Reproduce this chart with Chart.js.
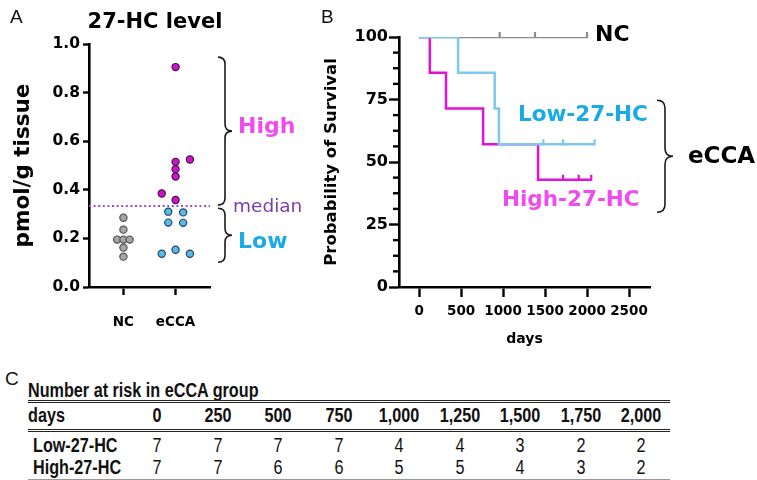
<!DOCTYPE html>
<html>
<head>
<meta charset="utf-8">
<title>27-HC level and survival</title>
<script src="https://cdn.jsdelivr.net/npm/chart.js@4.4.1/dist/chart.umd.min.js"></script>
<style>
  html, body { margin: 0; padding: 0; background: #fff; }
  #fig { position: relative; width: 757px; height: 480px; overflow: hidden; }
  #fig canvas { position: absolute; top: 0; }
  .t { position: absolute; white-space: nowrap; line-height: 1; font-family: 'DejaVu Sans', sans-serif; font-weight: bold; transform: translateY(-50%); }
  .panel { font-family: 'Liberation Sans', Arial, sans-serif; font-weight: normal; font-size: 19px; color: #111; }
  .tb { position: absolute; white-space: nowrap; line-height: 1; font-family: 'Liberation Sans', Arial, sans-serif; font-size: 19.5px; color: #111;
        transform: translateY(-50%) scaleX(0.83); transform-origin: 0 50%; }
  .tb.num { transform: translate(-50%, -50%) scaleX(0.83); transform-origin: 50% 50%; }
  .rule { position: absolute; left: 28px; width: 642px; }
</style>
</head>
<body>
<div id="fig">
  <canvas id="chartA" width="320" height="345" style="left:0"></canvas>
  <canvas id="chartB" width="437" height="350" style="left:320px"></canvas>

  <div class="t panel" style="left:10px;top:16px">A</div>
  <div class="t panel" style="left:321px;top:16px">B</div>
  <div class="t panel" style="left:5px;top:378px">C</div>

  <div class="t" style="left:155px;top:21px;font-size:21px;transform:translate(-50%,-50%)">27-HC level</div>
  <div class="t" style="left:238px;top:126px;font-size:22px;color:#f04af0">High</div>
  <div class="t" style="left:233px;top:206px;font-size:18.5px;font-weight:normal;color:#7b3fa6">median</div>
  <div class="t" style="left:238px;top:241px;font-size:22px;color:#1aabe6">Low</div>

  <div class="t" style="left:595px;top:34px;font-size:22px">NC</div>
  <div class="t" style="left:518px;top:114px;font-size:21.5px;color:#1aabe6">Low-27-HC</div>
  <div class="t" style="left:502px;top:199px;font-size:21.5px;color:#f04af0">High-27-HC</div>
  <div class="t" style="left:688px;top:155px;font-size:23px">eCCA</div>

  <div id="risk"></div>
</div>

<script>
// ---- panel A: 27-HC level (pmol/g tissue) ----
const groupLabels = ['NC', 'eCCA'];
const groupPos = [1, 2];
const yTicksA = [0, 0.2, 0.4, 0.6, 0.8, 1.0];

const ncValues   = [0.285, 0.236, 0.195, 0.195, 0.195, 0.162, 0.125];
const ncX        = [1, 1, 0.88, 1, 1.12, 1, 1];
const highValues = [0.905, 0.525, 0.515, 0.485, 0.455, 0.385, 0.358];
const highX      = [2, 2.275, 2, 2, 2, 1.735, 2];
const lowValues  = [0.310, 0.307, 0.265, 0.264, 0.153, 0.137, 0.137];
const lowX       = [1.86, 2.145, 1.86, 2.145, 2, 1.735, 2.275];
const medianValue = 0.333;

// brace extents (data units)
const bracesA = [[0.946, 0.337], [0.324, 0.102]];

// ---- panel B: survival ----
const dayTicks  = [0, 500, 1000, 1500, 2000, 2500];
const survTicks = [0, 25, 50, 75, 100];

const ncTimes   = [0, 2000];
const ncSurv    = [100, 100];
const ncCensor  = [960, 1380, 2000];

const lowTimes  = [0, 464, 900, 950, 2090];
const lowSurv   = [100, 85.7, 71.4, 57.1, 57.1];
const lowCensor = [1480, 1715, 2090];

const highTimes  = [0, 127, 320, 762, 1417, 2050];
const highSurv   = [100, 85.7, 71.4, 57.1, 42.9, 42.9];
const highCensor = [1715, 1900, 2050];

const bracesB = [[74.7, 29.9]];

// ---- panel C: number at risk ----
const riskDays = ['0', '250', '500', '750', '1,000', '1,250', '1,500', '1,750', '2,000'];
const riskLow  = [7, 7, 7, 7, 4, 4, 3, 2, 2];
const riskHigh = [7, 7, 6, 6, 5, 5, 4, 3, 2];

const C_NC = '#8c8c8c', C_LOW = '#7cc8ef', C_HIGH = '#e112d6';

Chart.defaults.font.family = "'DejaVu Sans', sans-serif";
Chart.defaults.font.weight = 'bold';
Chart.defaults.color = '#000';

function toPts(xs, ys) {
    return ys.map((v, i) => ({ x: xs[i], y: v }));
}

function survivalAt(times, surv, t) {
    let s = surv[0];
    times.forEach((tt, i) => { if (tt <= t) s = surv[i]; });
    return s;
}

function drawBrace(ctx, x, y1, y2, w) {
    const m = (y1 + y2) / 2, h = w / 2;
    ctx.beginPath();
    ctx.moveTo(x, y1);
    ctx.quadraticCurveTo(x + h, y1, x + h, y1 + h);
    ctx.lineTo(x + h, m - h);
    ctx.quadraticCurveTo(x + h, m, x + w, m);
    ctx.quadraticCurveTo(x + h, m, x + h, m + h);
    ctx.lineTo(x + h, y2 - h);
    ctx.quadraticCurveTo(x + h, y2, x, y2);
    ctx.stroke();
}

// curly braces on the right of a chart, anchored to the y scale
const bracePlugin = {
    id: 'braces',
    afterDraw(chart, args, opts) {
        const { ctx, chartArea, scales: { y } } = chart;
        ctx.save();
        ctx.strokeStyle = '#1a1a1a';
        ctx.lineWidth = 1.6;
        opts.ranges.forEach(r => {
            drawBrace(ctx, chartArea.right + opts.gap, y.getPixelForValue(r[0]), y.getPixelForValue(r[1]), opts.width);
        });
        ctx.restore();
    }
};

// censor marks + minor ticks on the survival plot
const kmPlugin = {
    id: 'kmExtras',
    afterDatasetsDraw(chart) {
        const { ctx, scales: { x, y } } = chart;
        const groups = [
            { times: ncTimes, surv: ncSurv, censor: ncCensor, color: C_NC },
            { times: highTimes, surv: highSurv, censor: highCensor, color: C_HIGH },
            { times: lowTimes, surv: lowSurv, censor: lowCensor, color: C_LOW }
        ];
        ctx.save();
        ctx.lineWidth = 2.2;
        groups.forEach(g => {
            ctx.strokeStyle = g.color;
            g.censor.forEach(t => {
                const px = x.getPixelForValue(t);
                const py = y.getPixelForValue(survivalAt(g.times, g.surv, t));
                ctx.beginPath();
                ctx.moveTo(px, py + 1);
                ctx.lineTo(px, py - 5);
                ctx.stroke();
            });
        });
        // minor ticks every 6.25
        ctx.strokeStyle = '#000';
        ctx.lineWidth = 2.4;
        for (let v = 6.25; v < 100; v += 6.25) {
            if (v % 25 === 0) continue;
            const py = y.getPixelForValue(v);
            ctx.beginPath();
            ctx.moveTo(x.left, py);
            ctx.lineTo(x.left - 6, py);
            ctx.stroke();
        }
        ctx.restore();
    }
};

// Panel A
new Chart(document.getElementById('chartA'), {
    type: 'scatter',
    data: {
        datasets: [
            {
                label: 'median',
                data: [{ x: 0.34, y: medianValue }, { x: 2.66, y: medianValue }],
                showLine: true,
                borderColor: '#9a4fd6',
                borderWidth: 2,
                borderDash: [2, 2.6],
                pointRadius: 0
            },
            {
                label: 'NC',
                data: toPts(ncX, ncValues),
                backgroundColor: '#a6a6a6',
                borderColor: '#505050',
                borderWidth: 1.2,
                pointRadius: 3.6
            },
            {
                label: 'High',
                data: toPts(highX, highValues),
                backgroundColor: '#cc14c8',
                borderColor: '#4a1050',
                borderWidth: 1.2,
                pointRadius: 3.6
            },
            {
                label: 'Low',
                data: toPts(lowX, lowValues),
                backgroundColor: '#5db8e6',
                borderColor: '#1f4866',
                borderWidth: 1.2,
                pointRadius: 3.6
            }
        ]
    },
    options: {
        responsive: false,
        animation: false,
        layout: { padding: { top: 44, right: 110, left: 0, bottom: 0 } },
        plugins: {
            legend: { display: false },
            tooltip: { enabled: false },
            braces: { ranges: bracesA, gap: 8, width: 14 }
        },
        scales: {
            x: {
                type: 'linear',
                min: 0.34,
                max: 2.66,
                afterBuildTicks: s => { s.ticks = groupPos.map(v => ({ value: v })); },
                afterFit: s => { s.height = 58; },
                ticks: {
                    callback: v => groupLabels[groupPos.indexOf(v)],
                    font: { size: 13.5, weight: 'bold' },
                    padding: 19,
                    maxRotation: 0
                },
                grid: { drawOnChartArea: false, tickLength: 8, tickWidth: 2.4, tickColor: '#000' },
                border: { color: '#000', width: 2.6 }
            },
            y: {
                min: 0,
                max: 1,
                afterBuildTicks: s => { s.ticks = yTicksA.map(v => ({ value: v })); },
                afterFit: s => { s.width = 89; },
                ticks: {
                    callback: v => v.toFixed(1),
                    font: { size: 15.5, weight: 'bold' },
                    padding: 3
                },
                grid: { drawOnChartArea: false, tickLength: 6, tickWidth: 2.4, tickColor: '#000' },
                border: { color: '#000', width: 2.6 },
                title: {
                    display: true,
                    text: 'pmol/g tissue',
                    font: { size: 21.5, weight: 'bold' },
                    padding: { top: 11, bottom: 0 }
                }
            }
        }
    },
    plugins: [bracePlugin]
});

// Panel B
new Chart(document.getElementById('chartB'), {
    type: 'line',
    data: {
        datasets: [
            { label: 'Low-27-HC', data: toPts(lowTimes, lowSurv), borderColor: C_LOW, borderWidth: 2.5, stepped: 'before', pointRadius: 0, fill: false },
            { label: 'High-27-HC', data: toPts(highTimes, highSurv), borderColor: C_HIGH, borderWidth: 2.5, stepped: 'before', pointRadius: 0, fill: false },
            { label: 'NC', data: toPts(ncTimes, ncSurv), borderColor: C_NC, borderWidth: 2.5, stepped: 'before', pointRadius: 0, fill: false }
        ]
    },
    options: {
        responsive: false,
        animation: false,
        layout: { padding: { top: 37, right: 107, left: 0, bottom: 0 } },
        plugins: {
            legend: { display: false },
            tooltip: { enabled: false },
            braces: { ranges: bracesB, gap: 7, width: 16 }
        },
        scales: {
            x: {
                type: 'linear',
                min: -240,
                max: 2750,
                afterBuildTicks: s => { s.ticks = dayTicks.map(v => ({ value: v })); },
                afterFit: s => { s.height = 63; },
                ticks: { font: { size: 13.5, weight: 'bold' }, padding: 6, maxRotation: 0, callback: v => String(v) },
                grid: { drawOnChartArea: false, tickLength: 10, tickWidth: 2.4, tickColor: '#000' },
                border: { color: '#000', width: 2.6 },
                title: {
                    display: true,
                    text: 'days',
                    font: { size: 14, weight: 'bold' },
                    padding: { top: 0, bottom: 2 }
                }
            },
            y: {
                min: 0,
                max: 100,
                afterBuildTicks: s => { s.ticks = survTicks.map(v => ({ value: v })); },
                afterFit: s => { s.width = 79; },
                ticks: { font: { size: 16, weight: 'bold' }, padding: 1 },
                grid: { drawOnChartArea: false, tickLength: 10, tickWidth: 2.4, tickColor: '#000' },
                border: { color: '#000', width: 2.6 },
                title: {
                    display: true,
                    text: 'Probability of Survival',
                    font: { size: 16.5, weight: 'bold' },
                    padding: { top: 2, bottom: 0 }
                }
            }
        }
    },
    plugins: [bracePlugin, kmPlugin]
});

// Panel C: number at risk table
function buildRiskTable() {
    const box = document.getElementById('risk');
    const colX = [157, 218, 278, 339, 399, 460, 520, 581, 641];
    let html = '';
    html += `<div class="tb" style="left:28px;top:391px;font-weight:bold">Number at risk in eCCA group</div>`;
    html += `<div class="rule" style="top:400px;border-top:3px double #222"></div>`;
    html += `<div class="rule" style="top:429px;border-top:3px double #222"></div>`;
    html += `<div class="rule" style="top:479px;border-top:1px solid #999"></div>`;
    const rows = [
        { label: 'days', vals: riskDays, y: 416, left: 28, bold: true },
        { label: 'Low-27-HC', vals: riskLow, y: 446, left: 33, bold: false },
        { label: 'High-27-HC', vals: riskHigh, y: 468, left: 33, bold: false }
    ];
    rows.forEach(r => {
        html += `<div class="tb" style="left:${r.left}px;top:${r.y}px;font-weight:bold">${r.label}</div>`;
        r.vals.forEach((v, i) => {
            html += `<div class="tb num" style="left:${colX[i]}px;top:${r.y}px;font-weight:${r.bold ? 'bold' : 'normal'}">${v}</div>`;
        });
    });
    box.innerHTML = html;
}
buildRiskTable();
</script>
</body>
</html>
